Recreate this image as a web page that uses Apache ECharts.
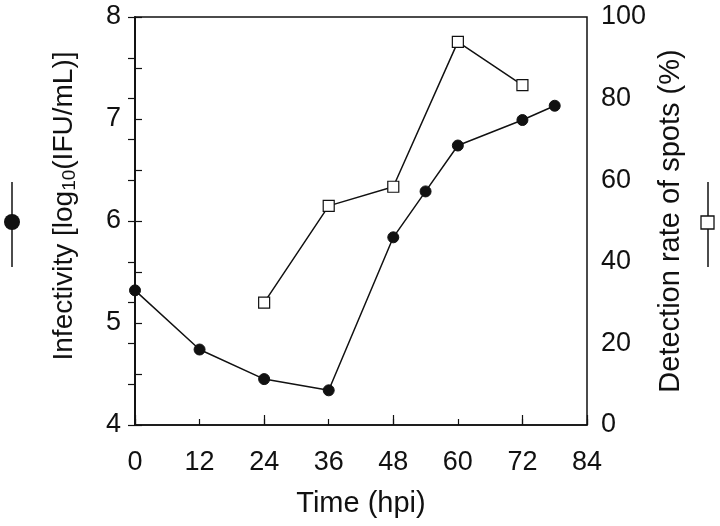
<!DOCTYPE html>
<html>
<head>
<meta charset="utf-8">
<script src="https://cdn.jsdelivr.net/npm/echarts@6/dist/echarts.min.js"></script>
<style>
  html, body { margin: 0; padding: 0; background: #fff; }
  #chart { width: 720px; height: 526px; }
</style>
</head>
<body>
<div id="chart"></div>
<script>
// infectivity (filled circles, left axis)
const infTime = [0, 12, 24, 36, 48, 54, 60, 72, 78]
const infValue = [5.32, 4.74, 4.45, 4.34, 5.84, 6.29, 6.74, 6.99, 7.13]

// detection rate of spots (open squares, right axis)
const spotTime = [24, 36, 48, 60, 72]
const spotValue = [30, 53.7, 58.4, 93.9, 83.3]

const font = 'Liberation Sans, Arial, sans-serif'
const black = '#111'

const chart = echarts.init(document.getElementById('chart'))

const option = {
  animation: false,
  textStyle: { fontFamily: font, color: black },
  grid: {
    left: 135, right: 133, top: 17, bottom: 101,
    show: true, borderColor: black, borderWidth: 1.5, backgroundColor: 'transparent'
  },
  xAxis: [{
    type: 'value', min: 0, max: 84, interval: 12,
    name: 'Time (hpi)', nameLocation: 'middle', nameGap: 64,
    nameTextStyle: { fontSize: 29, color: black, fontFamily: font },
    axisLine: { show: true, lineStyle: { color: black, width: 1.5 } },
    axisTick: { show: true, inside: true, length: 6, lineStyle: { color: black, width: 1.2 } },
    axisLabel: { fontSize: 27, color: black, margin: 24 },
    splitLine: { show: false }
  }, {
    // longer ticks every 24 h
    type: 'value', min: 0, max: 84, interval: 24, position: 'bottom',
    axisLine: { show: false },
    axisTick: { show: true, inside: true, length: 10, lineStyle: { color: black, width: 1.2 } },
    axisLabel: { show: false },
    splitLine: { show: false }
  }],
  yAxis: [{
    type: 'value', min: 4, max: 8, interval: 0.5,
    name: '{n|Infectivity [log}{s|10}{n|(IFU/mL)]}', nameLocation: 'middle', nameGap: 56,
    nameTextStyle: {
      padding: [0, 0, 0, 30],
      rich: {
        n: { fontSize: 28, color: black, fontFamily: font },
        s: { fontSize: 19, color: black, fontFamily: font, verticalAlign: 'bottom', padding: [10, 0, 0, 0] }
      }
    },
    axisLine: { show: true, lineStyle: { color: black, width: 1.5 } },
    axisTick: { show: true, inside: true, length: 7, lineStyle: { color: black, width: 1.2 } },
    axisLabel: {
      fontSize: 27, color: black, margin: 14,
      formatter: v => Number.isInteger(v) ? String(v) : ''
    },
    splitLine: { show: false }
  }, {
    type: 'value', min: 0, max: 100, interval: 10, position: 'right',
    name: 'Detection rate of spots (%)', nameLocation: 'middle', nameGap: 66,
    nameTextStyle: { fontSize: 29, color: black, fontFamily: font },
    axisLine: { show: true, lineStyle: { color: black, width: 1.5 } },
    axisTick: { show: true, inside: true, length: 7, lineStyle: { color: black, width: 1.2 } },
    axisLabel: {
      fontSize: 27, color: black, margin: 14,
      formatter: v => v % 20 === 0 ? String(v) : ''
    },
    splitLine: { show: false }
  }],
  series: [{
    name: 'Infectivity',
    type: 'line',
    xAxisIndex: 0, yAxisIndex: 0,
    data: infTime.map((t, i) => [t, infValue[i]]),
    symbol: 'circle', symbolSize: 11,
    itemStyle: { color: black, borderColor: black },
    lineStyle: { color: black, width: 1.5 },
    z: 3
  }, {
    name: 'Detection rate',
    type: 'line',
    xAxisIndex: 0, yAxisIndex: 1,
    data: spotTime.map((t, i) => [t, spotValue[i]]),
    symbol: 'rect', symbolSize: 11,
    itemStyle: { color: '#fff', borderColor: black, borderWidth: 1.2 },
    lineStyle: { color: black, width: 1.5 },
    z: 3
  }],
  graphic: [
    // key glyphs beside the axis titles
    { type: 'line', shape: { x1: 12, y1: 182, x2: 12, y2: 267 }, style: { stroke: black, lineWidth: 1.5 } },
    { type: 'circle', shape: { cx: 12, cy: 222, r: 8 }, style: { fill: black } },
    { type: 'line', shape: { x1: 708, y1: 182, x2: 708, y2: 267 }, style: { stroke: black, lineWidth: 1.5 } },
    { type: 'rect', shape: { x: 701, y: 216, width: 13, height: 13 }, style: { fill: '#fff', stroke: black, lineWidth: 1.3 } }
  ]
}

chart.setOption(option)
</script>
</body>
</html>
